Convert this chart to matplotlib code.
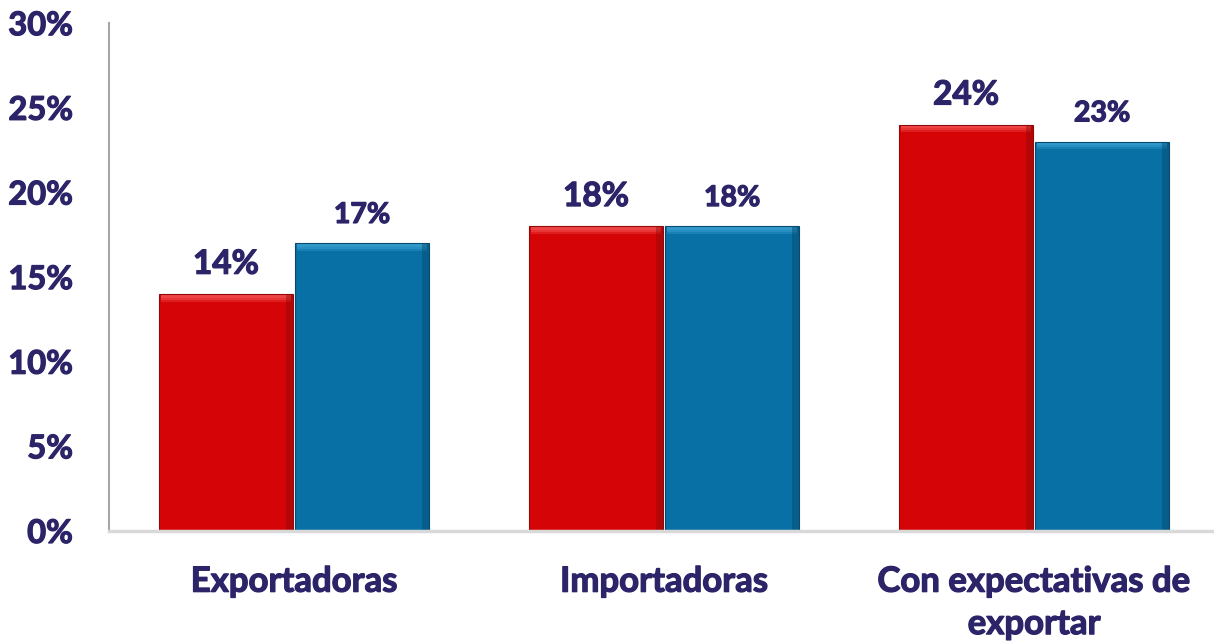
import matplotlib
matplotlib.use("Agg")
import matplotlib.pyplot as plt
import matplotlib.patheffects as pe
import numpy as np

categories = ["Exportadoras", "Importadoras", "Con expectativas de\nexportar"]
serie_roja = [14, 18, 24]
serie_azul = [17, 18, 23]
yticks = [0, 5, 10, 15, 20, 25, 30]
ytick_labels = ["0%", "5%", "10%", "15%", "20%", "25%", "30%"]

navy = "#2B2468"
red = "#D50406"
blue = "#0870A4"
plt.rcParams['font.family'] = ['Lato', 'DejaVu Sans']
thick = [pe.withStroke(linewidth=0.9, foreground=navy)]

fig = plt.figure(figsize=(12.14, 6.44), dpi=100)
ax = fig.add_axes([0.0898, 0.1755, 0.9144, 0.7885])

x = np.arange(len(categories))
w = 0.362
xr = x - w / 2 - 0.003
xb = x + w / 2 + 0.003

def bevel(xs, vals, color, light, dark):
    tops = np.array(vals)
    ax.bar(xs, tops, w, color=color, edgecolor=dark, linewidth=0.8, zorder=2)
    for h, a in [(0.40, 0.35), (0.28, 0.45), (0.16, 0.55)]:
        ax.bar(xs, [h] * len(tops), w * 0.97, bottom=tops - h - 0.05, color=light,
               linewidth=0, zorder=3, alpha=a)
    ax.bar(xs + w * 0.475, tops, w * 0.05, color=dark, linewidth=0, zorder=3, alpha=0.45)

bevel(xr, serie_roja, red, "#F45050", "#8E0A0A")
bevel(xb, serie_azul, blue, "#3AA0D2", "#064A6E")

for xi, v in zip(xr, serie_roja):
    ax.annotate(f"{v}%", (xi, v), xytext=(0, 11), textcoords="offset points",
                ha="center", va="bottom", fontsize=24, fontweight="bold", color=navy,
                path_effects=thick)
for xi, v in zip(xb, serie_azul):
    ax.annotate(f"{v}%", (xi, v), xytext=(0, 11), textcoords="offset points",
                ha="center", va="bottom", fontsize=20.5, fontweight="bold", color=navy,
                path_effects=thick)

ax.set_xlim(-0.5, 2.5)
ax.set_ylim(0, 30)
ax.set_yticks(yticks)
ax.set_yticklabels(ytick_labels, fontsize=23.5, fontweight="bold", color=navy)
ax.set_xticks(x)
ax.set_xticklabels(categories, fontsize=25, fontweight="bold", color=navy, linespacing=1.4)
ax.tick_params(axis="y", length=0, pad=26)
ax.tick_params(axis="x", length=0, pad=25)
for lab in ax.get_yticklabels() + ax.get_xticklabels():
    lab.set_path_effects(thick)
for lab in ax.get_yticklabels():
    lab.set_horizontalalignment("right")

ax.spines["top"].set_visible(False)
ax.spines["right"].set_visible(False)
ax.spines["left"].set_color("#A6A6A6")
ax.spines["left"].set_linewidth(1.5)
ax.spines["bottom"].set_color("#D9D9D9")
ax.spines["bottom"].set_linewidth(2.5)
ax.spines["bottom"].set_zorder(4)

fig.savefig("out.png", dpi=100)
